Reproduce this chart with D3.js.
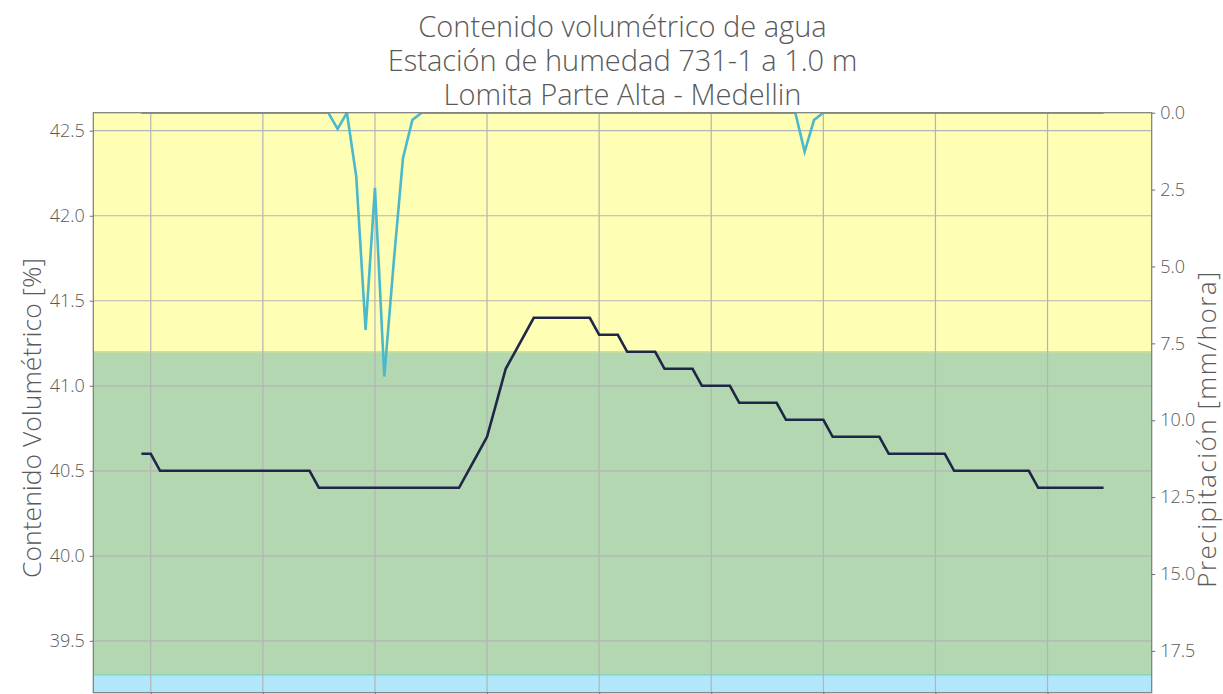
<!DOCTYPE html>
<html>
<head>
<meta charset="utf-8">
<script src="https://cdn.jsdelivr.net/npm/d3@7"></script>
<style>
  html, body { margin: 0; padding: 0; background: #ffffff; }
  svg { display: block; }
  text { font-family: "Open Sans", "Noto Sans", sans-serif; font-weight: 300; }
</style>
</head>
<body>
<svg id="chart" width="1223" height="694"></svg>
<script>
// Title lines
const titleLines = [
  "Contenido volumétrico de agua",
  "Estación de humedad 731-1 a 1.0 m",
  "Lomita Parte Alta - Medellin"
];

// Hour offsets of each hourly reading (relative to the first 12 h grid line)
const hours = d3.range(-1, 103);

// Volumetric water content [%]
const humidity = [
  40.6, 40.6,
  40.5, 40.5, 40.5, 40.5, 40.5, 40.5, 40.5, 40.5, 40.5, 40.5, 40.5, 40.5, 40.5, 40.5, 40.5, 40.5, 40.5,
  40.4, 40.4, 40.4, 40.4, 40.4, 40.4, 40.4, 40.4, 40.4, 40.4, 40.4, 40.4, 40.4, 40.4, 40.4, 40.4,
  40.5, 40.6, 40.7, 40.9, 41.1, 41.2, 41.3,
  41.4, 41.4, 41.4, 41.4, 41.4, 41.4, 41.4,
  41.3, 41.3, 41.3,
  41.2, 41.2, 41.2, 41.2,
  41.1, 41.1, 41.1, 41.1,
  41.0, 41.0, 41.0, 41.0,
  40.9, 40.9, 40.9, 40.9, 40.9,
  40.8, 40.8, 40.8, 40.8, 40.8,
  40.7, 40.7, 40.7, 40.7, 40.7, 40.7,
  40.6, 40.6, 40.6, 40.6, 40.6, 40.6, 40.6,
  40.5, 40.5, 40.5, 40.5, 40.5, 40.5, 40.5, 40.5, 40.5,
  40.4, 40.4, 40.4, 40.4, 40.4, 40.4, 40.4, 40.4
];

// Hourly precipitation [mm/hora]
const precipitation = [
  0, 0, 0, 0, 0, 0, 0, 0, 0, 0, 0, 0, 0,
  0, 0, 0, 0, 0, 0, 0, 0, 0.53, 0, 2.08, 7.06, 2.44,
  8.58, 4.9, 1.48, 0.24, 0, 0, 0, 0, 0, 0, 0, 0, 0,
  0, 0, 0, 0, 0, 0, 0, 0, 0, 0, 0, 0, 0,
  0, 0, 0, 0, 0, 0, 0, 0, 0, 0, 0, 0, 0,
  0, 0, 0, 0, 0, 0, 1.27, 0.24, 0, 0, 0, 0, 0,
  0, 0, 0, 0, 0, 0, 0, 0, 0, 0, 0, 0, 0,
  0, 0, 0, 0, 0, 0, 0, 0, 0, 0, 0, 0, 0
];

// Moisture bands (lower limit, upper limit) in %
const bandLimits = [
  [null, 39.3],
  [39.3, 41.2],
  [41.2, null]
];
const bandColors = ["#b1e7fb", "#b2d7b1", "#fefeb4"];
const bandEdgeColors = ["#8fd0b8", "#cfe38e"];

// Axis ticks
const xTicks = [0, 12, 24, 36, 48, 60, 72, 84, 96];
const leftTicks = [39.5, 40.0, 40.5, 41.0, 41.5, 42.0, 42.5];
const rightTicks = [0.0, 2.5, 5.0, 7.5, 10.0, 12.5, 15.0, 17.5];

const svg = d3.select("#chart");
const plot = { left: 93.3, right: 1151.7, top: 112.7, bottom: 692.7 };
const textColor = "#595959";

const x = d3.scaleLinear().domain([-6.15, 107.15]).range([plot.left, plot.right]);
const y = d3.scaleLinear().domain([39.195, 42.606]).range([plot.bottom, plot.top]);
const yR = d3.scaleLinear().domain([0, 18.86]).range([plot.top, plot.bottom]);

svg.append("defs").append("clipPath").attr("id", "plotClip")
  .append("rect")
  .attr("x", plot.left).attr("y", plot.top)
  .attr("width", plot.right - plot.left).attr("height", plot.bottom - plot.top);

// Background bands
const yLo = y.domain()[0], yHi = y.domain()[1];
svg.append("g").selectAll("rect").data(bandLimits).join("rect")
  .attr("x", plot.left)
  .attr("width", plot.right - plot.left)
  .attr("y", d => y(d[1] === null ? yHi : d[1]))
  .attr("height", d => y(d[0] === null ? yLo : d[0]) - y(d[1] === null ? yHi : d[1]))
  .attr("fill", (d, i) => bandColors[i]);

// Band boundary lines
svg.append("g").selectAll("line").data([39.3, 41.2]).join("line")
  .attr("x1", plot.left).attr("x2", plot.right)
  .attr("y1", d => y(d)).attr("y2", d => y(d))
  .attr("stroke", (d, i) => bandEdgeColors[i])
  .attr("stroke-width", 1.5);

// Grid
const grid = svg.append("g").attr("stroke", "#b4b4b4").attr("stroke-width", 1.2);
grid.selectAll("line.v").data(xTicks).join("line").attr("class", "v")
  .attr("x1", d => x(d)).attr("x2", d => x(d))
  .attr("y1", plot.top).attr("y2", plot.bottom);
grid.selectAll("line.h").data(leftTicks).join("line").attr("class", "h")
  .attr("x1", plot.left).attr("x2", plot.right)
  .attr("y1", d => y(d)).attr("y2", d => y(d));

// Series
const lines = svg.append("g").attr("clip-path", "url(#plotClip)");
lines.append("path")
  .datum(hours.map((h, i) => [h, precipitation[i]]))
  .attr("fill", "none")
  .attr("stroke", "#4cb8cb")
  .attr("stroke-width", 2.6)
  .attr("stroke-linejoin", "miter")
  .attr("d", d3.line().x(d => x(d[0])).y(d => yR(d[1])));

lines.append("path")
  .datum(hours.map((h, i) => [h, humidity[i]]))
  .attr("fill", "none")
  .attr("stroke", "#202647")
  .attr("stroke-width", 2.6)
  .attr("d", d3.line().x(d => x(d[0])).y(d => y(d[1])));

// Axes
const styleAxis = g => {
  g.select(".domain").remove();
  g.selectAll(".tick line").attr("stroke", "#6e6e6e").attr("stroke-width", 1);
  g.selectAll(".tick text").attr("fill", textColor).attr("font-size", 18);
};

svg.append("g")
  .attr("transform", `translate(${plot.left},0)`)
  .call(d3.axisLeft(y).tickValues(leftTicks).tickFormat(d3.format(".1f")).tickSize(3.5).tickPadding(5))
  .call(styleAxis);

svg.append("g")
  .attr("transform", `translate(${plot.right},0)`)
  .call(d3.axisRight(yR).tickValues(rightTicks).tickFormat(d3.format(".1f")).tickSize(3.5).tickPadding(5))
  .call(styleAxis);

svg.append("g")
  .attr("transform", `translate(0,${plot.bottom})`)
  .call(d3.axisBottom(x).tickValues(xTicks).tickFormat("").tickSize(3.5))
  .call(styleAxis);

// Plot frame
svg.append("rect")
  .attr("x", plot.left).attr("y", plot.top)
  .attr("width", plot.right - plot.left).attr("height", plot.bottom - plot.top)
  .attr("fill", "none").attr("stroke", "#7a7a7a").attr("stroke-width", 1.2);

// Axis titles
svg.append("text")
  .attr("transform", "translate(31,418) rotate(-90)")
  .attr("text-anchor", "middle")
  .attr("dominant-baseline", "central")
  .attr("fill", textColor)
  .attr("font-size", 26.5)
  .text("Contenido Volumétrico [%]");

svg.append("text")
  .attr("transform", "translate(1206,429) rotate(-90)")
  .attr("text-anchor", "middle")
  .attr("dominant-baseline", "central")
  .attr("fill", textColor)
  .attr("font-size", 26)
  .attr("letter-spacing", 1.5)
  .text("Precipitación [mm/hora]");

// Title
svg.append("g").selectAll("text").data(titleLines).join("text")
  .attr("x", (plot.left + plot.right) / 2)
  .attr("y", (d, i) => 37 + i * 34)
  .attr("text-anchor", "middle")
  .attr("fill", textColor)
  .attr("font-size", 29)
  .text(d => d);
</script>
</body>
</html>
